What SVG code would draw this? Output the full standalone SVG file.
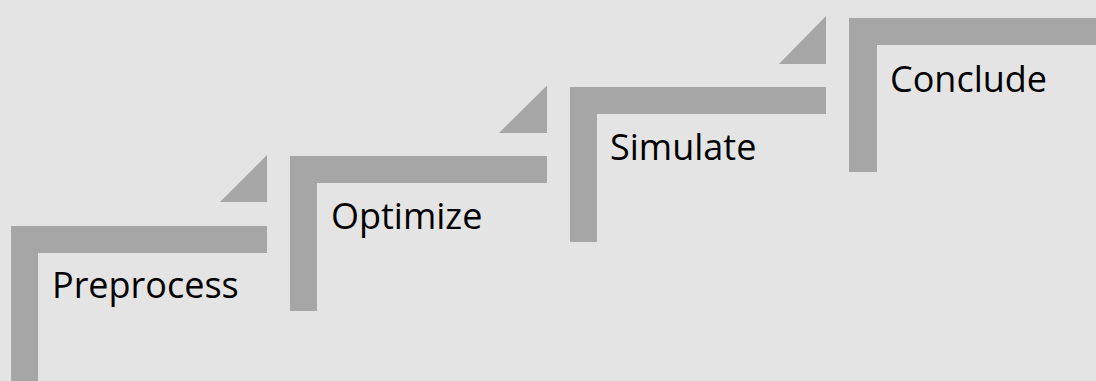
<svg xmlns="http://www.w3.org/2000/svg" width="1096" height="381" viewBox="0 0 1096 381">
<style>
.bar{fill:#a6a6a6}
.lbl{font-family:"Open Sans","Noto Sans",sans-serif;font-size:36px;fill:#000}
</style>
<rect width="1096" height="381" fill="#e4e4e4"/>
<g id="step1">
<path class="bar" d="M11,226 H267 V253 H38 V381 H11 Z"/>
<path class="bar" d="M220,202 H267 V155 Z"/>
<text class="lbl" x="52" y="298">Preprocess</text>
</g>
<g id="step2">
<path class="bar" d="M290,156 H547 V183 H317 V311 H290 Z"/>
<path class="bar" d="M499,133 H547 V85.5 Z"/>
<text class="lbl" x="331" y="229">Optimize</text>
</g>
<g id="step3">
<path class="bar" d="M570,87 H826 V114 H597 V242 H570 Z"/>
<path class="bar" d="M779,64 H826 V16 Z"/>
<text class="lbl" x="610" y="160">Simulate</text>
</g>
<g id="step4">
<path class="bar" d="M849,18 H1096 V45 H877 V172 H849 Z"/>
<text class="lbl" x="890" y="92">Conclude</text>
</g>
<g id="connectors"/>
</svg>
